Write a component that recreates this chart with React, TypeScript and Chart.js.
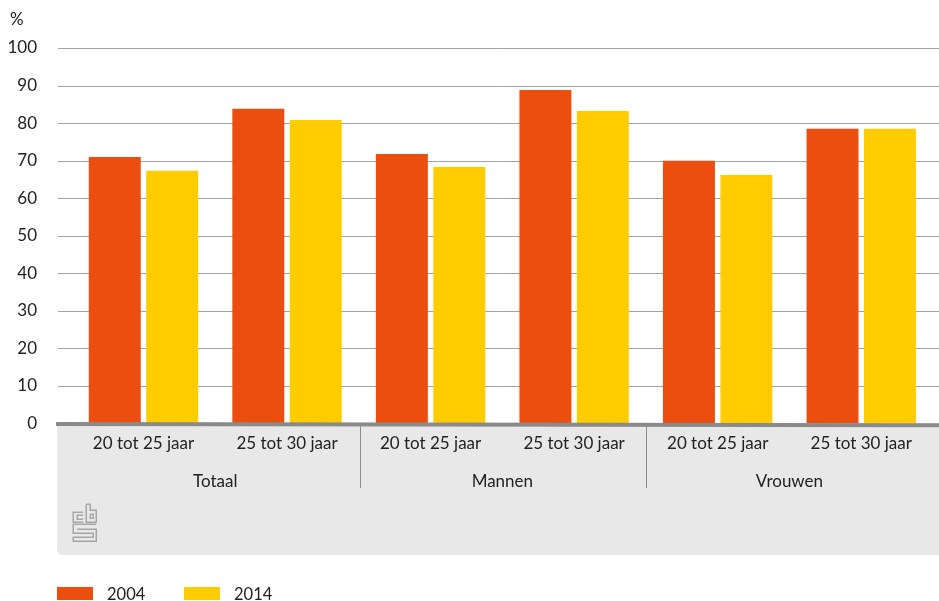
import React, { useEffect, useRef } from "react";
import { Chart, registerables } from "chart.js";

Chart.register(...registerables);

const ageGroups = ["20 tot 25 jaar", "25 tot 30 jaar", "20 tot 25 jaar", "25 tot 30 jaar", "20 tot 25 jaar", "25 tot 30 jaar"];
const genderGroups = ["Totaal", "Mannen", "Vrouwen"];
const values2004 = [71, 83.8, 71.8, 88.8, 70, 78.5];
const values2014 = [67.3, 80.8, 68.3, 83.2, 66.2, 78.5];
const yTicks = [0, 10, 20, 30, 40, 50, 60, 70, 80, 90, 100];

const FONT = "Lato";
const TEXT = "#222222";
const ORANGE = "#eb4e0f";
const YELLOW = "#ffcc00";

const frame = {
  id: "frame",
  beforeDraw(chart: any) {
    const { ctx, scales } = chart;
    const y = scales.y;
    const base = y.getPixelForValue(0);
    ctx.save();
    // panel under the axis
    ctx.fillStyle = "#e8e8e8";
    ctx.beginPath();
    ctx.moveTo(57, base);
    ctx.lineTo(939, base);
    ctx.lineTo(939, 555);
    ctx.lineTo(63, 555);
    ctx.quadraticCurveTo(57, 555, 57, 549);
    ctx.closePath();
    ctx.fill();
    // horizontal grid
    ctx.strokeStyle = "#a3a3a3";
    ctx.lineWidth = 1;
    for (const t of yTicks) {
      if (t === 0) continue;
      const py = Math.round(y.getPixelForValue(t)) + 0.5;
      ctx.beginPath();
      ctx.moveTo(58, py);
      ctx.lineTo(939, py);
      ctx.stroke();
    }
    // dividers between groups
    const x = scales.x;
    ctx.strokeStyle = "#8c8c8c";
    [[1.5, 2], [3.5, 1]].forEach(([i, shift]) => {
      const px = Math.floor(x.getPixelForValue(i)) + shift + 0.5;
      ctx.beginPath();
      ctx.moveTo(px, base + 2);
      ctx.lineTo(px, 488);
      ctx.stroke();
    });
    // logo
    ctx.strokeStyle = "#a6a6a6";
    ctx.lineWidth = 1.5;
    const paths: number[][][] = [
      [[83, 512], [73, 512], [73, 522], [83, 522]],
      [[83, 515], [77, 515], [77, 519], [83, 519]],
      [[86, 504], [90, 504], [90, 510], [96, 510], [96, 522], [86, 522], [86, 504]],
      [[90, 514], [93, 514], [93, 518], [90, 518], [90, 514]],
      [[96, 524], [73, 524], [73, 533], [93, 533], [93, 537], [73, 537], [73, 541], [96, 541], [96, 529], [77, 529]],
    ];
    for (const p of paths) {
      ctx.beginPath();
      p.forEach(([a, b], i) => (i ? ctx.lineTo(a + 0.25, b + 0.25) : ctx.moveTo(a + 0.25, b + 0.25)));
      ctx.stroke();
    }
    ctx.restore();
  },
  afterDatasetsDraw(chart: any) {
    const { ctx, scales, data } = chart;
    const base = scales.y.getPixelForValue(0);
    ctx.save();
    // baseline
    ctx.strokeStyle = "#8a8a8a";
    ctx.lineWidth = 4;
    ctx.beginPath();
    ctx.moveTo(56, base + 0.5);
    ctx.lineTo(939, base + 1.8);
    ctx.stroke();
    // unit
    ctx.fillStyle = TEXT;
    ctx.font = `17px ${FONT}`;
    ctx.textBaseline = "middle";
    ctx.textAlign = "left";
    ctx.fillText("%", 10, 20);
    // legend
    ctx.font = `16.5px ${FONT}`;
    const xs = [57, 184];
    data.datasets.forEach((d: any, i: number) => {
      ctx.fillStyle = d.backgroundColor;
      ctx.fillRect(xs[i], 587, 36, 13);
      ctx.fillStyle = TEXT;
      ctx.fillText(d.label, xs[i] + 50, 594.5);
    });
    ctx.restore();
  },
};

export default function App() {
  const ref = useRef<HTMLCanvasElement>(null);
  useEffect(() => {
    document.body.style.margin = "0";
    const chart = new Chart(ref.current!, {
      type: "bar",
      data: {
        labels: ageGroups,
        datasets: [
          { label: "2004", data: values2004, backgroundColor: ORANGE, xAxisID: "x", yAxisID: "y" },
          { label: "2014", data: values2014, backgroundColor: YELLOW, xAxisID: "x", yAxisID: "y" },
        ],
      },
      options: {
        responsive: false,
        animation: false,
        events: [],
        layout: { padding: { top: 48, left: 0, right: 6, bottom: 0 } },
        datasets: { bar: { categoryPercentage: 0.8, barPercentage: 0.905 } },
        plugins: { legend: { display: false }, tooltip: { enabled: false }, title: { display: false } },
        scales: {
          y: {
            min: 0,
            max: 100,
            afterFit: (s: any) => { s.width = 71.7; },
            afterBuildTicks: (s: any) => { s.ticks = yTicks.map((value) => ({ value })); },
            grid: { display: false, drawTicks: false },
            border: { display: false },
            ticks: { color: TEXT, font: { family: FONT, size: 17 }, padding: 34.7 },
          },
          x: {
            position: "bottom",
            grid: { display: false, drawTicks: false },
            border: { display: false },
            afterFit: (s: any) => { s.height = 38; },
            ticks: { color: TEXT, font: { family: FONT, size: 17 }, maxRotation: 0, autoSkip: false, padding: 10 },
          },
          x2: {
            type: "category",
            labels: genderGroups,
            position: "bottom",
            grid: { display: false, drawTicks: false },
            border: { display: false },
            afterFit: (s: any) => { s.height = 139.5; },
            ticks: { color: TEXT, font: { family: FONT, size: 17 }, maxRotation: 0, autoSkip: false, padding: 10 },
          },
        },
      },
      plugins: [frame],
    } as any);
    return () => chart.destroy();
  }, []);
  return <canvas ref={ref} width={939} height={601} style={{ display: "block" }} />;
}
